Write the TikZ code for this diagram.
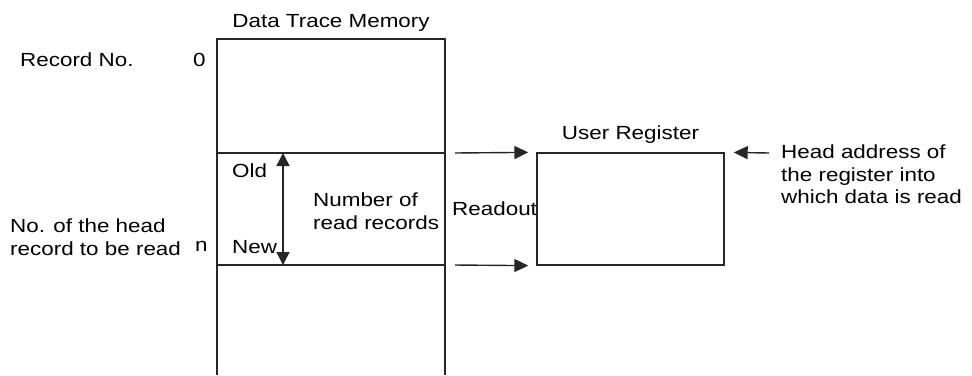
\documentclass[tikz,border=0pt]{standalone}
\usepackage{fontspec}
\setmainfont[FakeStretch=1.18]{Liberation Sans}
\usetikzlibrary{arrows.meta}

\begin{document}
\begin{tikzpicture}[x=1bp,y=-1bp]
  \tikzstyle{txt}=[inner sep=0pt,anchor=base west,align=left,font=\fontsize{19bp}{22.3bp}\selectfont]
  \tikzstyle{frame}=[draw=black!85,line width=1.4bp,inner sep=0pt]
  \tikzstyle{arr}=[draw=black!85,fill=black,line width=1.4bp,-{Triangle[length=14bp,width=13bp]}]
  \useasboundingbox (0,0) rectangle (972,375);
  % data trace memory
  \draw[black!85,line width=1.4bp] (217,375) -- (217,39) -- (445,39) -- (445,375);
  \node[frame,minimum width=228bp,minimum height=112bp] (rd) at (331,209) {};
  \node[txt,anchor=base] (dtm) at (331,27) {Data Trace Memory};
  \node[txt] (recno) at (20,66) {Record No.};
  \node[txt] (r0) at (193,66) {0};
  \node[txt] (headno) at (10,255) {No. of the head\\record to be read};
  \node[txt] (rn) at (195,251) {n};
  \node[txt] (old) at (232,177) {Old};
  \node[txt] (new) at (232,253) {New};
  \node[txt] (num) at (313,229) {Number of\\read records};
  \coordinate (top) at (283,153);
  \coordinate (bot) at (283,265);
  \draw[arr,{Triangle[length=13bp,width=13bp]}-{Triangle[length=13bp,width=13bp]}] (top) -- (bot);
  % user register
  \node[frame,minimum width=187bp,minimum height=112bp] (ureg) at (630.5,209) {};
  \node[txt,anchor=base] (ulbl) at (630.5,139) {User Register};
  \node[txt] (rdout) at (452,215) {Readout};
  \coordinate (a1) at (455,153);
  \coordinate (a2) at (455,265);
  \draw[arr,shorten >=8bp] (a1) -- (ureg.north west);
  \draw[arr,shorten >=8bp] (a2) -- (ureg.south west);
  \node[txt] (haddr) at (781,203.3) {Head address of\\the register into\\which data is read};
  \coordinate (a3) at (769,153);
  \draw[arr,shorten >=9bp] (a3) -- (ureg.north east);
\end{tikzpicture}
\end{document}
